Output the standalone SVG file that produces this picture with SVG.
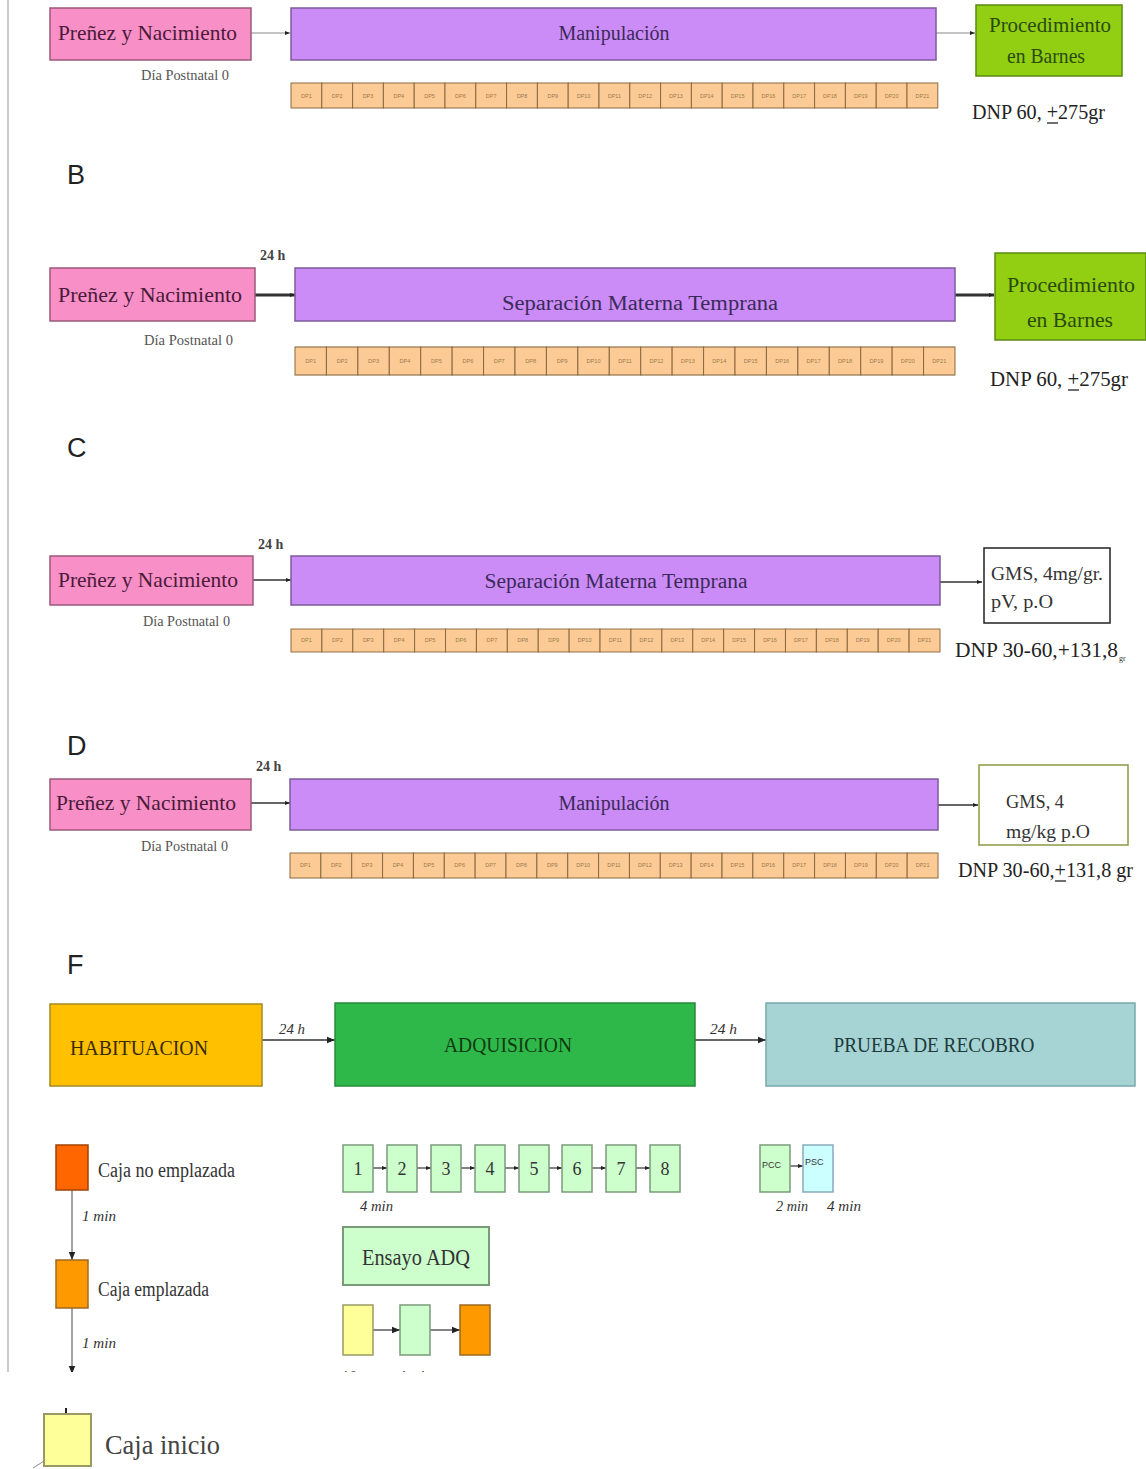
<svg xmlns="http://www.w3.org/2000/svg" width="1146" height="1469" viewBox="0 0 1146 1469">
<style>
.serif{font-family:"Liberation Serif","Times New Roman",serif}
.sans{font-family:"Liberation Sans",Arial,sans-serif}
.pink{fill:#f88fc6;stroke:#9a5a7a;stroke-width:1.5}
.purple{fill:#cc8cf7;stroke:#7b5b9b;stroke-width:1.5}
.green{fill:#92cf12;stroke:#5a8a10;stroke-width:1.5}
.pt{font-family:"Liberation Serif",serif;fill:#4a1a3a;font-size:21px}
.ut{font-family:"Liberation Serif",serif;fill:#3a2a5a;font-size:20px}
.gt{font-family:"Liberation Serif",serif;fill:#2a4a10;font-size:22px}
.dp{font-family:"Liberation Serif",serif;fill:#555;font-size:14px}
.dnp{font-family:"Liberation Serif",serif;fill:#222;font-size:21px}
.h24{font-family:"Liberation Serif",serif;fill:#444;font-size:14px;font-weight:bold}
.let{font-family:"Liberation Sans",Arial,sans-serif;fill:#222;font-size:27px}
.cell{fill:#fcca94;stroke:#8a6a40;stroke-width:1}
.ct{font-family:"Liberation Sans",sans-serif;fill:#9a7a50;font-size:5.5px;text-anchor:middle}
.sb{fill:#ccffcc;stroke:#7a9a7a;stroke-width:1.5}
.it{font-family:"Liberation Serif",serif;font-style:italic;fill:#333;font-size:15px}
.num{font-family:"Liberation Serif",serif;fill:#333;font-size:18px;text-anchor:middle}
.con{stroke:#333;stroke-width:1.5;fill:none}
.ul{stroke:#222;stroke-width:1.3}
</style>
<defs>
<marker id="ah" viewBox="0 0 10 10" refX="10" refY="5" markerWidth="8" markerHeight="8" markerUnits="userSpaceOnUse" orient="auto"><path d="M0,1 L10,5 L0,9 z" fill="#222"/></marker>
<marker id="ahs" viewBox="0 0 10 10" refX="10" refY="5" markerWidth="5" markerHeight="5" markerUnits="userSpaceOnUse" orient="auto"><path d="M0,1 L10,5 L0,9 z" fill="#222"/></marker>
<clipPath id="cut"><rect x="0" y="0" width="1146" height="1372"/></clipPath>
<g id="cells">
<rect class="cell" x="0" y="0" width="30.8" height="25"/><rect class="cell" x="30.8" y="0" width="30.8" height="25"/><rect class="cell" x="61.6" y="0" width="30.8" height="25"/><rect class="cell" x="92.4" y="0" width="30.8" height="25"/><rect class="cell" x="123.2" y="0" width="30.8" height="25"/><rect class="cell" x="154" y="0" width="30.8" height="25"/><rect class="cell" x="184.8" y="0" width="30.8" height="25"/><rect class="cell" x="215.6" y="0" width="30.8" height="25"/><rect class="cell" x="246.4" y="0" width="30.8" height="25"/><rect class="cell" x="277.2" y="0" width="30.8" height="25"/><rect class="cell" x="308" y="0" width="30.8" height="25"/><rect class="cell" x="338.8" y="0" width="30.8" height="25"/><rect class="cell" x="369.6" y="0" width="30.8" height="25"/><rect class="cell" x="400.4" y="0" width="30.8" height="25"/><rect class="cell" x="431.2" y="0" width="30.8" height="25"/><rect class="cell" x="462" y="0" width="30.8" height="25"/><rect class="cell" x="492.8" y="0" width="30.8" height="25"/><rect class="cell" x="523.6" y="0" width="30.8" height="25"/><rect class="cell" x="554.4" y="0" width="30.8" height="25"/><rect class="cell" x="585.2" y="0" width="30.8" height="25"/><rect class="cell" x="616" y="0" width="30.8" height="25"/>
<text class="ct" x="15.4" y="14.5">DP1</text><text class="ct" x="46.2" y="14.5">DP2</text><text class="ct" x="77" y="14.5">DP3</text><text class="ct" x="107.8" y="14.5">DP4</text><text class="ct" x="138.6" y="14.5">DP5</text><text class="ct" x="169.4" y="14.5">DP6</text><text class="ct" x="200.2" y="14.5">DP7</text><text class="ct" x="231" y="14.5">DP8</text><text class="ct" x="261.8" y="14.5">DP9</text><text class="ct" x="292.6" y="14.5">DP10</text><text class="ct" x="323.4" y="14.5">DP11</text><text class="ct" x="354.2" y="14.5">DP12</text><text class="ct" x="385" y="14.5">DP13</text><text class="ct" x="415.8" y="14.5">DP14</text><text class="ct" x="446.6" y="14.5">DP15</text><text class="ct" x="477.4" y="14.5">DP16</text><text class="ct" x="508.2" y="14.5">DP17</text><text class="ct" x="539" y="14.5">DP18</text><text class="ct" x="569.8" y="14.5">DP19</text><text class="ct" x="600.6" y="14.5">DP20</text><text class="ct" x="631.4" y="14.5">DP21</text>
</g>
</defs>
<rect width="1146" height="1469" fill="#fff"/>
<line x1="8" y1="0" x2="8" y2="1372" stroke="#bbb" stroke-width="1.5"/>

<!-- connectors -->
<g id="connectors">
<line x1="251" y1="33" x2="290" y2="33" stroke="#888" stroke-width="1" marker-end="url(#ahs)"/>
<line x1="936" y1="33" x2="975" y2="33" stroke="#888" stroke-width="1" marker-end="url(#ahs)"/>
<line x1="255" y1="295" x2="295" y2="295" stroke="#333" stroke-width="3" marker-end="url(#ahs)"/>
<line x1="955" y1="295" x2="994" y2="295" stroke="#333" stroke-width="3" marker-end="url(#ahs)"/>
<line x1="253" y1="580" x2="291" y2="580" stroke="#333" stroke-width="1.5" marker-end="url(#ahs)"/>
<line x1="940" y1="582" x2="982" y2="582" stroke="#333" stroke-width="1.5" marker-end="url(#ahs)"/>
<line x1="251" y1="803" x2="290" y2="803" stroke="#333" stroke-width="1.5" marker-end="url(#ahs)"/>
<line x1="938" y1="805" x2="978" y2="805" stroke="#333" stroke-width="1.5" marker-end="url(#ahs)"/>
<line class="con" x1="262" y1="1040" x2="335" y2="1040" marker-end="url(#ah)"/>
<line class="con" x1="695" y1="1040" x2="766" y2="1040" marker-end="url(#ah)"/>
<line x1="373" y1="1168" x2="387" y2="1168" stroke="#333" stroke-width="1.2" marker-end="url(#ahs)"/>
<line x1="417" y1="1168" x2="431" y2="1168" stroke="#333" stroke-width="1.2" marker-end="url(#ahs)"/>
<line x1="461" y1="1168" x2="475" y2="1168" stroke="#333" stroke-width="1.2" marker-end="url(#ahs)"/>
<line x1="505" y1="1168" x2="519" y2="1168" stroke="#333" stroke-width="1.2" marker-end="url(#ahs)"/>
<line x1="549" y1="1168" x2="562" y2="1168" stroke="#333" stroke-width="1.2" marker-end="url(#ahs)"/>
<line x1="592" y1="1168" x2="606" y2="1168" stroke="#333" stroke-width="1.2" marker-end="url(#ahs)"/>
<line x1="636" y1="1168" x2="650" y2="1168" stroke="#333" stroke-width="1.2" marker-end="url(#ahs)"/>
<line x1="790" y1="1166" x2="803" y2="1166" stroke="#333" stroke-width="1.2" marker-end="url(#ahs)"/>
<line x1="373" y1="1330" x2="400" y2="1330" stroke="#333" stroke-width="1.2" marker-end="url(#ah)"/>
<line x1="430" y1="1330" x2="460" y2="1330" stroke="#333" stroke-width="1.2" marker-end="url(#ah)"/>
<line x1="72" y1="1190" x2="72" y2="1260" stroke="#666" stroke-width="1.2" marker-end="url(#ah)"/>
<line x1="72" y1="1308" x2="72" y2="1374" stroke="#666" stroke-width="1.2" marker-end="url(#ah)" clip-path="url(#cut)"/>
<line x1="66" y1="1408" x2="66" y2="1416" stroke="#222" stroke-width="2"/>
<line x1="33" y1="1468" x2="44" y2="1461" stroke="#888" stroke-width="1"/>
</g>

<!-- Row A -->
<g id="a-prenez"><rect class="pink" x="50" y="8" width="201" height="52"/><text class="pt" x="58" y="40" textLength="179" lengthAdjust="spacingAndGlyphs">Preñez y Nacimiento</text></g>
<g id="a-manip"><rect class="purple" x="291" y="8" width="645" height="52"/><text class="ut" x="614" y="40" text-anchor="middle">Manipulación</text></g>
<g id="a-barnes"><rect class="green" x="976" y="5" width="146" height="71"/><text class="gt" x="1050" y="32" text-anchor="middle" textLength="122" lengthAdjust="spacingAndGlyphs">Procedimiento</text><text class="gt" x="1046" y="63" text-anchor="middle" textLength="78" lengthAdjust="spacingAndGlyphs">en Barnes</text></g>
<text class="dp" x="141" y="80" textLength="88" lengthAdjust="spacingAndGlyphs">Día Postnatal 0</text>
<use href="#cells" x="291" y="83"/>
<text class="dnp" x="972" y="119" textLength="133" lengthAdjust="spacingAndGlyphs">DNP 60, +275gr</text>
<line class="ul" x1="1047" y1="123" x2="1058" y2="123"/>

<text class="let" x="67" y="184">B</text>
<!-- Row B -->
<text class="h24" x="260" y="260">24 h</text>
<g id="b-prenez"><rect class="pink" x="50" y="268" width="205" height="53"/><text class="pt" x="58" y="302" textLength="184" lengthAdjust="spacingAndGlyphs">Preñez y Nacimiento</text></g>
<g id="b-sep"><rect class="purple" x="295" y="268" width="660" height="53"/><text class="ut" x="640" y="310" text-anchor="middle" font-size="25" textLength="276" lengthAdjust="spacingAndGlyphs">Separación Materna Temprana</text></g>
<g id="b-barnes"><rect class="green" x="995" y="253" width="151" height="87"/><text class="gt" x="1071" y="292" text-anchor="middle" textLength="128" lengthAdjust="spacingAndGlyphs">Procedimiento</text><text class="gt" x="1070" y="327" text-anchor="middle" textLength="86" lengthAdjust="spacingAndGlyphs">en Barnes</text></g>
<text class="dp" x="144" y="345" textLength="89" lengthAdjust="spacingAndGlyphs">Día Postnatal 0</text>
<use href="#cells" transform="translate(295,347) scale(1.0204,1.12)"/>
<text class="dnp" x="990" y="386" textLength="138" lengthAdjust="spacingAndGlyphs">DNP 60, +275gr</text>
<line class="ul" x1="1068" y1="390" x2="1079" y2="390"/>

<text class="let" x="67" y="457">C</text>
<!-- Row C -->
<text class="h24" x="258" y="549">24 h</text>
<g id="c-prenez"><rect class="pink" x="50" y="556" width="203" height="49"/><text class="pt" x="58" y="587" textLength="180" lengthAdjust="spacingAndGlyphs">Preñez y Nacimiento</text></g>
<g id="c-sep"><rect class="purple" x="291" y="556" width="649" height="49"/><text class="ut" x="616" y="588" text-anchor="middle" textLength="263" lengthAdjust="spacingAndGlyphs">Separación Materna Temprana</text></g>
<g id="c-gms"><rect x="984" y="548" width="126" height="75" fill="#fff" stroke="#222" stroke-width="1.5"/><text class="serif" x="991" y="580" font-size="18" fill="#333" textLength="112" lengthAdjust="spacingAndGlyphs">GMS, 4mg/gr.</text><text class="serif" x="991" y="608" font-size="18" fill="#333" textLength="62" lengthAdjust="spacingAndGlyphs">pV, p.O</text></g>
<text class="dp" x="143" y="626" textLength="87" lengthAdjust="spacingAndGlyphs">Día Postnatal 0</text>
<use href="#cells" transform="translate(291,629) scale(1.0034,0.92)"/>
<text class="dnp" x="955" y="657" textLength="163" lengthAdjust="spacingAndGlyphs">DNP 30-60,+131,8</text><text class="serif" x="1119" y="661" font-size="8" fill="#333">gr</text>

<text class="let" x="67" y="755">D</text>
<!-- Row D -->
<text class="h24" x="256" y="771">24 h</text>
<g id="d-prenez"><rect class="pink" x="50" y="779" width="201" height="51"/><text class="pt" x="56" y="810" textLength="180" lengthAdjust="spacingAndGlyphs">Preñez y Nacimiento</text></g>
<g id="d-manip"><rect class="purple" x="290" y="779" width="648" height="51"/><text class="ut" x="614" y="810" text-anchor="middle">Manipulación</text></g>
<g id="d-gms"><rect x="979" y="765" width="149" height="80" fill="#fff" stroke="#8a9a40" stroke-width="1.5"/><text class="serif" x="1006" y="808" font-size="18" fill="#333" textLength="58" lengthAdjust="spacingAndGlyphs">GMS, 4</text><text class="serif" x="1006" y="838" font-size="18" fill="#333" textLength="84" lengthAdjust="spacingAndGlyphs">mg/kg p.O</text></g>
<text class="dp" x="141" y="851" textLength="87" lengthAdjust="spacingAndGlyphs">Día Postnatal 0</text>
<use href="#cells" transform="translate(290,853) scale(1.0019,1)"/>
<text class="dnp" x="958" y="877" textLength="175" lengthAdjust="spacingAndGlyphs">DNP 30-60,+131,8 gr</text>
<line class="ul" x1="1055" y1="881" x2="1066" y2="881"/>

<text class="let" x="67" y="974">F</text>
<!-- Row F -->
<g id="habit"><rect x="50" y="1004" width="212" height="82" fill="#ffc000" stroke="#a88a20" stroke-width="1.5"/><text class="serif" x="70" y="1055" font-size="22" fill="#3a2a00" textLength="138" lengthAdjust="spacingAndGlyphs">HABITUACION</text></g>
<text class="it" x="279" y="1034" font-size="18" textLength="26" lengthAdjust="spacingAndGlyphs">24 h</text>
<g id="adq"><rect x="335" y="1003" width="360" height="83" fill="#2fb84a" stroke="#2a8a3a" stroke-width="1.5"/><text class="serif" x="508" y="1052" font-size="22" fill="#103a10" text-anchor="middle" textLength="128" lengthAdjust="spacingAndGlyphs">ADQUISICION</text></g>
<text class="it" x="710" y="1034" font-size="18" textLength="27" lengthAdjust="spacingAndGlyphs">24 h</text>
<g id="prueba"><rect x="766" y="1003" width="369" height="83" fill="#a6d4d4" stroke="#7aa8a8" stroke-width="1.5"/><text class="serif" x="934" y="1052" font-size="22" fill="#203a3a" text-anchor="middle" textLength="201" lengthAdjust="spacingAndGlyphs">PRUEBA DE RECOBRO</text></g>

<g id="adq-trials">
<rect class="sb" x="343" y="1145" width="30" height="47"/><text class="num" x="358" y="1175">1</text>
<rect class="sb" x="387" y="1145" width="30" height="47"/><text class="num" x="402" y="1175">2</text>
<rect class="sb" x="431" y="1145" width="30" height="47"/><text class="num" x="446" y="1175">3</text>
<rect class="sb" x="475" y="1145" width="30" height="47"/><text class="num" x="490" y="1175">4</text>
<rect class="sb" x="519" y="1145" width="30" height="47"/><text class="num" x="534" y="1175">5</text>
<rect class="sb" x="562" y="1145" width="30" height="47"/><text class="num" x="577" y="1175">6</text>
<rect class="sb" x="606" y="1145" width="30" height="47"/><text class="num" x="621" y="1175">7</text>
<rect class="sb" x="650" y="1145" width="30" height="47"/><text class="num" x="665" y="1175">8</text>
</g>
<text class="it" x="360" y="1211" textLength="33" lengthAdjust="spacingAndGlyphs">4 min</text>
<g id="pcc"><rect class="sb" x="760" y="1145" width="30" height="47"/><text class="sans" x="762" y="1168" font-size="9" fill="#333">PCC</text></g>
<g id="psc"><rect x="803" y="1145" width="30" height="47" fill="#ccffff" stroke="#8ab" stroke-width="1.5"/><text class="sans" x="805" y="1165" font-size="9" fill="#333">PSC</text></g>
<text class="it" x="776" y="1211" textLength="32" lengthAdjust="spacingAndGlyphs">2 min</text>
<text class="it" x="827" y="1211" textLength="34" lengthAdjust="spacingAndGlyphs">4 min</text>

<g id="ensayo"><rect x="343" y="1227" width="146" height="58" fill="#ccffcc" stroke="#7a9a7a" stroke-width="2"/><text class="serif" x="416" y="1265" font-size="23" fill="#333" text-anchor="middle" textLength="108" lengthAdjust="spacingAndGlyphs">Ensayo ADQ</text></g>
<g id="seq-yellow"><rect x="343" y="1305" width="30" height="50" fill="#ffff99" stroke="#999966" stroke-width="1.5"/></g>
<g id="seq-green"><rect x="400" y="1305" width="30" height="50" fill="#ccffcc" stroke="#7a9a7a" stroke-width="1.5"/></g>
<g id="seq-orange"><rect x="460" y="1305" width="30" height="50" fill="#ff9900" stroke="#9a6a20" stroke-width="1.5"/></g>
<g clip-path="url(#cut)"><text class="it" x="341" y="1381" font-size="13">10 sec</text><text class="it" x="398" y="1381" font-size="13">4 min</text></g>

<g id="caja-no"><rect x="56" y="1145" width="32" height="45" fill="#ff6600" stroke="#a04400" stroke-width="1.5"/><text class="serif" x="98" y="1177" font-size="20" fill="#333" textLength="137" lengthAdjust="spacingAndGlyphs">Caja no emplazada</text></g>
<text class="it" x="82" y="1221" textLength="34" lengthAdjust="spacingAndGlyphs">1 min</text>
<g id="caja-empl"><rect x="56" y="1260" width="32" height="48" fill="#ff9900" stroke="#a06a20" stroke-width="1.5"/><text class="serif" x="98" y="1296" font-size="20" fill="#333" textLength="111" lengthAdjust="spacingAndGlyphs">Caja emplazada</text></g>
<text class="it" x="82" y="1348" textLength="34" lengthAdjust="spacingAndGlyphs">1 min</text>
<g id="caja-inicio"><rect x="44" y="1414" width="47" height="52" fill="#ffff99" stroke="#999966" stroke-width="2"/><text class="serif" x="105" y="1454" font-size="27" fill="#444" textLength="115" lengthAdjust="spacingAndGlyphs">Caja inicio</text></g>
</svg>
